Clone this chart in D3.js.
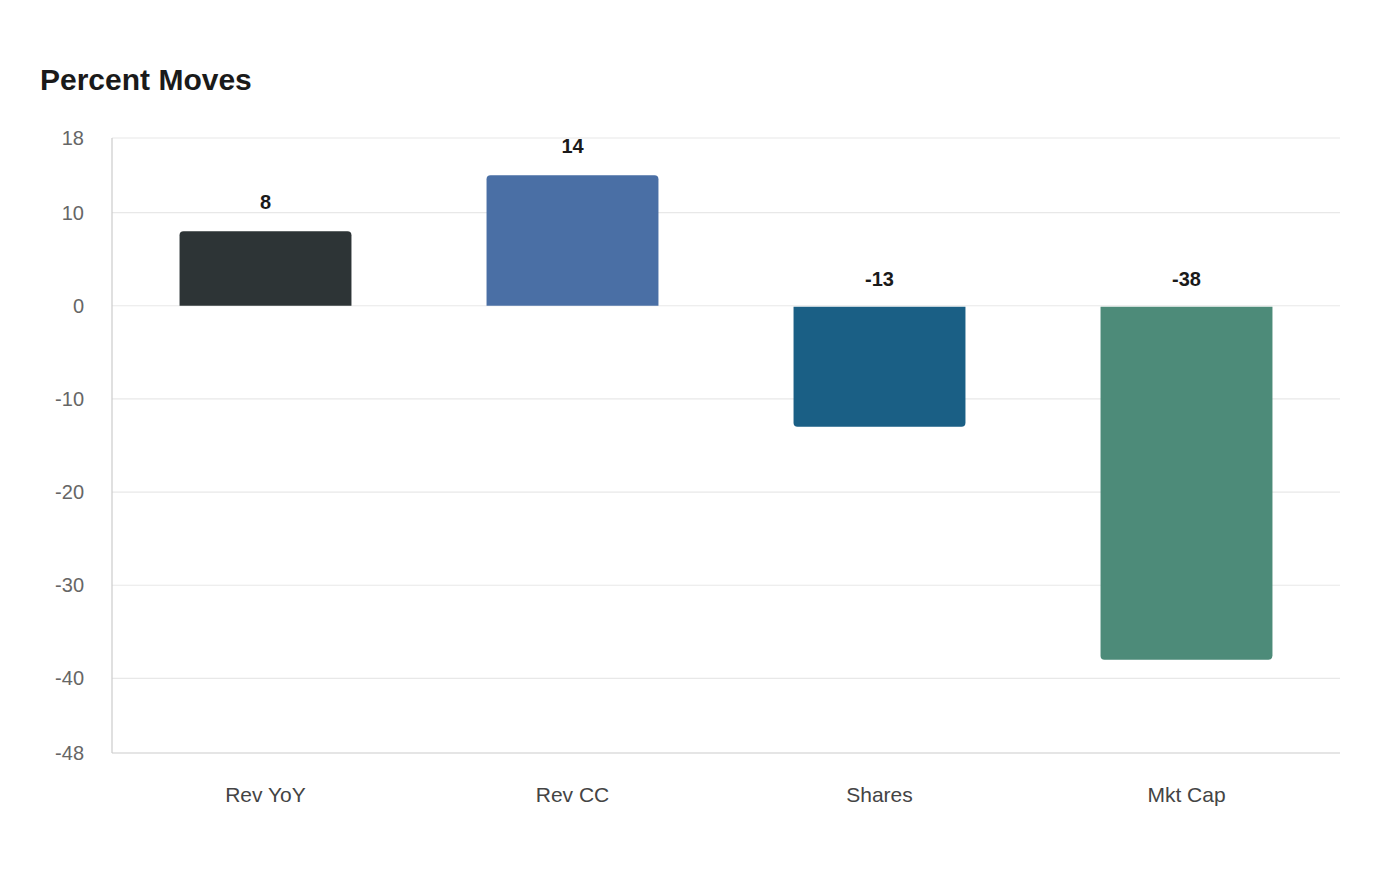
<!DOCTYPE html>
<html><head><meta charset="utf-8">
<script src="https://cdn.jsdelivr.net/npm/d3@7"></script>
<style>body{margin:0;background:#fff;font-family:"Liberation Sans",Arial,sans-serif}</style>
</head><body><svg id="c" width="1400" height="880"></svg>
<script>
const categories = ["Rev YoY","Rev CC","Shares","Mkt Cap"];
const values = [8,14,-13,-38];
const colors = ["#2d3436","#4a6fa5","#1a5f85","#4d8b79"];
const yTicks = [18,10,0,-10,-20,-30,-40,-48];

const svg = d3.select("#c");
const L=112,R=1340,T=138,B=753;
const x = d3.scaleBand().domain(categories).range([L,R]).paddingInner(0.44).paddingOuter(0.22);
const y = d3.scaleLinear().domain([-48,18]).range([B,T]);

svg.append("text").attr("x",40).attr("y",90).attr("font-size",30).attr("font-weight","bold").attr("fill","#1a1a1a").text("Percent Moves");

svg.append("g").selectAll("line").data(yTicks).join("line")
 .attr("x1",L).attr("x2",R).attr("y1",d=>y(d)).attr("y2",d=>y(d))
 .attr("stroke",d=>d===-48?"#ccc":"#e8e8e8").attr("stroke-width",1.2);
svg.append("line").attr("x1",L).attr("x2",L).attr("y1",T).attr("y2",B).attr("stroke","#ccc").attr("stroke-width",1.2);

svg.append("g").selectAll("text").data(yTicks).join("text")
 .attr("x",84).attr("y",d=>y(d)).attr("dy","0.35em").attr("text-anchor","end")
 .attr("font-size",20).attr("fill","#666").text(d=>d);

const r=4;
function barPath(c,v){
  const x0=x(c),w=x.bandwidth(),y0=y(0),y1=y(v);
  if(v>=0) return `M${x0},${y0}V${y1+r}Q${x0},${y1} ${x0+r},${y1}H${x0+w-r}Q${x0+w},${y1} ${x0+w},${y1+r}V${y0}Z`;
  return `M${x0},${y0+1}V${y1-r}Q${x0},${y1} ${x0+r},${y1}H${x0+w-r}Q${x0+w},${y1} ${x0+w},${y1-r}V${y0+1}Z`;
}
svg.append("g").selectAll("path").data(categories).join("path")
 .attr("d",(c,i)=>barPath(c,values[i])).attr("fill",(c,i)=>colors[i]);

svg.append("g").selectAll("text").data(categories).join("text")
 .attr("x",c=>x(c)+x.bandwidth()/2)
 .attr("y",(c,i)=>values[i]>=0?y(values[i])-22:y(0)-20)
 .attr("text-anchor","middle").attr("font-size",20).attr("font-weight","bold").attr("fill","#1a1a1a")
 .text((c,i)=>values[i]);

svg.append("g").selectAll("text").data(categories).join("text")
 .attr("x",c=>x(c)+x.bandwidth()/2).attr("y",802).attr("text-anchor","middle")
 .attr("font-size",21).attr("fill","#444").text(c=>c);
</script></body></html>
